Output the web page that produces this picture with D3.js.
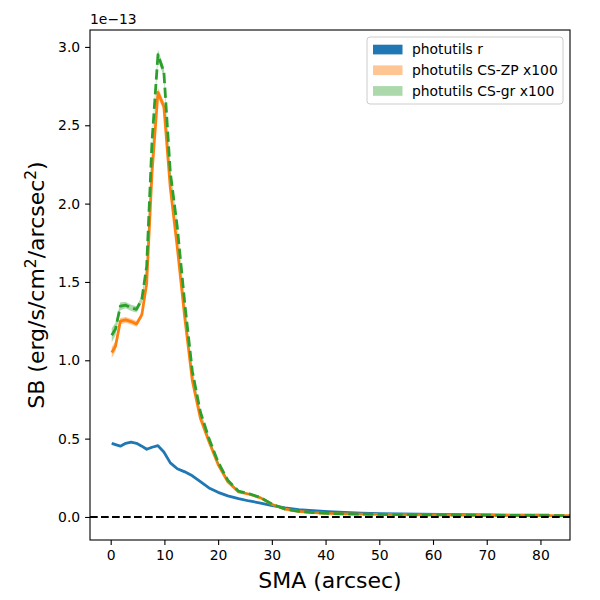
<!DOCTYPE html>
<html>
<head>
<meta charset="utf-8">
<script src="https://cdn.jsdelivr.net/npm/d3@7"></script>
<style>
  body { margin: 0; background: #fff; }
  svg { font-family: "DejaVu Sans", sans-serif; }
</style>
</head>
<body>
<svg id="chart" width="600" height="600"></svg>
<script>
"use strict";

// semi-major axis (arcsec)
const sma = [0.2, 0.9, 1.8, 2.8, 3.8, 4.8, 5.8, 6.7, 7.7, 8.8, 9.9, 11.1, 12.4, 13.8, 15.2,
             16.7, 18.3, 20.0, 21.8, 23.8, 25.8, 27.9, 30.1, 32.5, 35.0, 37.7, 40.5, 43.5,
             46.7, 50.1, 53.7, 57.5, 61.5, 65.8, 70.3, 75.1, 81.6, 85.3, 90.8];

// surface brightness, units of 1e-13
const sbR = [0.470, 0.462, 0.452, 0.470, 0.477, 0.470, 0.452, 0.432, 0.445, 0.455, 0.415,
             0.345, 0.308, 0.288, 0.263, 0.225, 0.185, 0.157, 0.135, 0.117, 0.102, 0.089,
             0.073, 0.058, 0.047, 0.040, 0.034, 0.029, 0.025, 0.022, 0.020, 0.018, 0.016,
             0.015, 0.013, 0.012, 0.011, null, null];
const sbZP = [1.05, 1.09, 1.25, 1.258, 1.247, 1.232, 1.29, 1.49, 2.20, 2.71, 2.62, 2.10,
              1.72, 1.27, 0.87, 0.63, 0.48, 0.335, 0.225, 0.160, 0.145, 0.122, 0.080, 0.050,
              0.035, 0.028, 0.023, 0.020, 0.018, 0.016, 0.015, 0.014, 0.013, 0.012, 0.011,
              0.010, 0.009, 0.008, 0.007];
const sbGR = [1.16, 1.20, 1.345, 1.352, 1.335, 1.325, 1.39, 1.60, 2.40, 2.95, 2.84, 2.20,
              1.85, 1.36, 0.93, 0.67, 0.50, 0.350, 0.235, 0.165, 0.148, 0.124, 0.081, 0.050,
              0.035, 0.028, 0.023, 0.020, 0.018, 0.016, 0.015, 0.014, 0.013, 0.012, 0.011,
              0.010, 0.009, 0.008, 0.007];
// uncertainties (same units)
const errR = [0.006, 0.005, 0.005, 0.005, 0.005, 0.005, 0.005, 0.005, 0.005, 0.005, 0.004,
              0.004, 0.003, 0.003, 0.003, 0.002, 0.002, 0.002, 0.002, 0.001, 0.001, 0.001,
              0.001, 0.001, 0.001, 0.001, 0.001, 0.001, 0.001, 0.001, 0.001, 0.001, 0.001,
              0.001, 0.001, 0.001, 0.001, null, null];
const errZP = [0.035, 0.03, 0.02, 0.018, 0.018, 0.018, 0.02, 0.025, 0.03, 0.03, 0.03, 0.025,
               0.02, 0.016, 0.012, 0.01, 0.008, 0.006, 0.005, 0.004, 0.004, 0.003, 0.003,
               0.002, 0.002, 0.002, 0.002, 0.002, 0.002, 0.002, 0.002, 0.002, 0.002, 0.002,
               0.002, 0.002, 0.002, 0.002, 0.002];
const errGR = [0.045, 0.04, 0.025, 0.02, 0.02, 0.02, 0.022, 0.028, 0.032, 0.032, 0.032, 0.028,
               0.022, 0.018, 0.013, 0.011, 0.009, 0.007, 0.005, 0.004, 0.004, 0.003, 0.003,
               0.002, 0.002, 0.002, 0.002, 0.002, 0.002, 0.002, 0.002, 0.002, 0.002, 0.002,
               0.002, 0.002, 0.002, 0.002, 0.002];

const xTicks = [0, 10, 20, 30, 40, 50, 60, 70, 80];
const yTicks = [0, 0.5, 1.0, 1.5, 2.0, 2.5, 3.0];

const series = [
  {name: "photutils r", y: sbR, err: errR, color: "#1f77b4", band: 1.0, dash: null},
  {name: "photutils CS-ZP x100", y: sbZP, err: errZP, color: "#ff7f0e", band: 0.45, dash: null},
  {name: "photutils CS-gr x100", y: sbGR, err: errGR, color: "#2ca02c", band: 0.4, dash: "10.3,4.4"}
];

const svg = d3.select("#chart");
const margin = {left: 90, right: 30, top: 30, bottom: 60};
const width = 600 - margin.left - margin.right;
const height = 600 - margin.top - margin.bottom;

const x = d3.scaleLinear().domain([-3.85, 85.5]).range([0, width]);
const y = d3.scaleLinear().domain([-0.147, 3.108]).range([height, 0]);

const g = svg.append("g")
             .attr("transform", "translate(" + margin.left + "," + margin.top + ")");

g.append("clipPath").attr("id", "clip")
  .append("rect").attr("width", width).attr("height", height);

const plot = g.append("g").attr("clip-path", "url(#clip)");

series.forEach(function(s) {
  const pts = sma.map(function(v, i) { return {x: v, y: s.y[i], e: s.err[i]}; });
  const ok = function(d) { return d.y !== null; };

  // error band
  const area = d3.area()
                 .defined(ok)
                 .x(function(d) { return x(d.x); })
                 .y0(function(d) { return y(d.y - d.e); })
                 .y1(function(d) { return y(d.y + d.e); });
  plot.append("path")
      .attr("d", area(pts))
      .attr("fill", s.color)
      .attr("fill-opacity", s.band === 1.0 ? 0.5 : s.band);

  const line = d3.line()
                 .defined(ok)
                 .x(function(d) { return x(d.x); })
                 .y(function(d) { return y(d.y); });
  plot.append("path")
      .attr("d", line(pts))
      .attr("fill", "none")
      .attr("stroke", s.color)
      .attr("stroke-width", 2.78)
      .attr("stroke-linejoin", "round")
      .attr("stroke-dasharray", s.dash);
});

// zero line
plot.append("line")
    .attr("x1", 0).attr("x2", width)
    .attr("y1", y(0)).attr("y2", y(0))
    .attr("stroke", "#000")
    .attr("stroke-width", 2.08)
    .attr("stroke-dasharray", "7.7,3.3");

// axes
const xAxis = g.append("g")
               .attr("transform", "translate(0," + height + ")")
               .call(d3.axisBottom(x).tickValues(xTicks).tickSizeOuter(0).tickSize(4.9).tickPadding(4.9));
const yAxis = g.append("g")
               .call(d3.axisLeft(y).tickValues(yTicks).tickFormat(d3.format(".1f")).tickSizeOuter(0).tickSize(4.9).tickPadding(4.9));

[xAxis, yAxis].forEach(function(a) {
  a.select(".domain").remove();
  a.selectAll("line").attr("stroke", "#000").attr("stroke-width", 1.1);
  a.selectAll("text").attr("font-size", 13.9).attr("fill", "#000")
   .attr("font-family", "DejaVu Sans, sans-serif");
});

// frame
g.append("rect")
  .attr("width", width).attr("height", height)
  .attr("fill", "none").attr("stroke", "#000").attr("stroke-width", 1.1);

// offset text
g.append("text")
  .attr("x", 0).attr("y", -6)
  .attr("font-size", 13.9)
  .text("1e\u221213");

// axis labels
svg.append("text")
   .attr("x", margin.left + width / 2)
   .attr("y", 588)
   .attr("text-anchor", "middle")
   .attr("font-size", 22)
   .text("SMA (arcsec)");

const yl = svg.append("text")
   .attr("transform", "translate(44," + (margin.top + height / 2) + ") rotate(-90)")
   .attr("text-anchor", "middle")
   .attr("font-size", 22);
yl.append("tspan").text("SB (erg/s/cm");
yl.append("tspan").attr("font-size", 15.4).attr("dy", -8.5).text("2");
yl.append("tspan").attr("dy", 8.5).text("/arcsec");
yl.append("tspan").attr("font-size", 15.4).attr("dy", -8.5).text("2");
yl.append("tspan").attr("dy", 8.5).text(")");

// legend
const leg = g.append("g").attr("transform", "translate(" + (367 - margin.left) + "," + (37 - margin.top) + ")");
leg.append("rect")
   .attr("width", 196).attr("height", 67)
   .attr("rx", 3).attr("ry", 3)
   .attr("fill", "#fff").attr("fill-opacity", 0.8)
   .attr("stroke", "#cccccc").attr("stroke-width", 1);

series.forEach(function(s, i) {
  const row = leg.append("g").attr("transform", "translate(0," + (12.5 + i * 20.7) + ")");
  row.append("rect")
     .attr("x", 6).attr("y", -4.8)
     .attr("width", 29.5).attr("height", 9.7)
     .attr("fill", s.color)
     .attr("fill-opacity", s.band);
  row.append("text")
     .attr("x", 45).attr("y", 0)
     .attr("dy", "0.35em")
     .attr("font-size", 13.9)
     .text(s.name);
});
</script>
</body>
</html>
